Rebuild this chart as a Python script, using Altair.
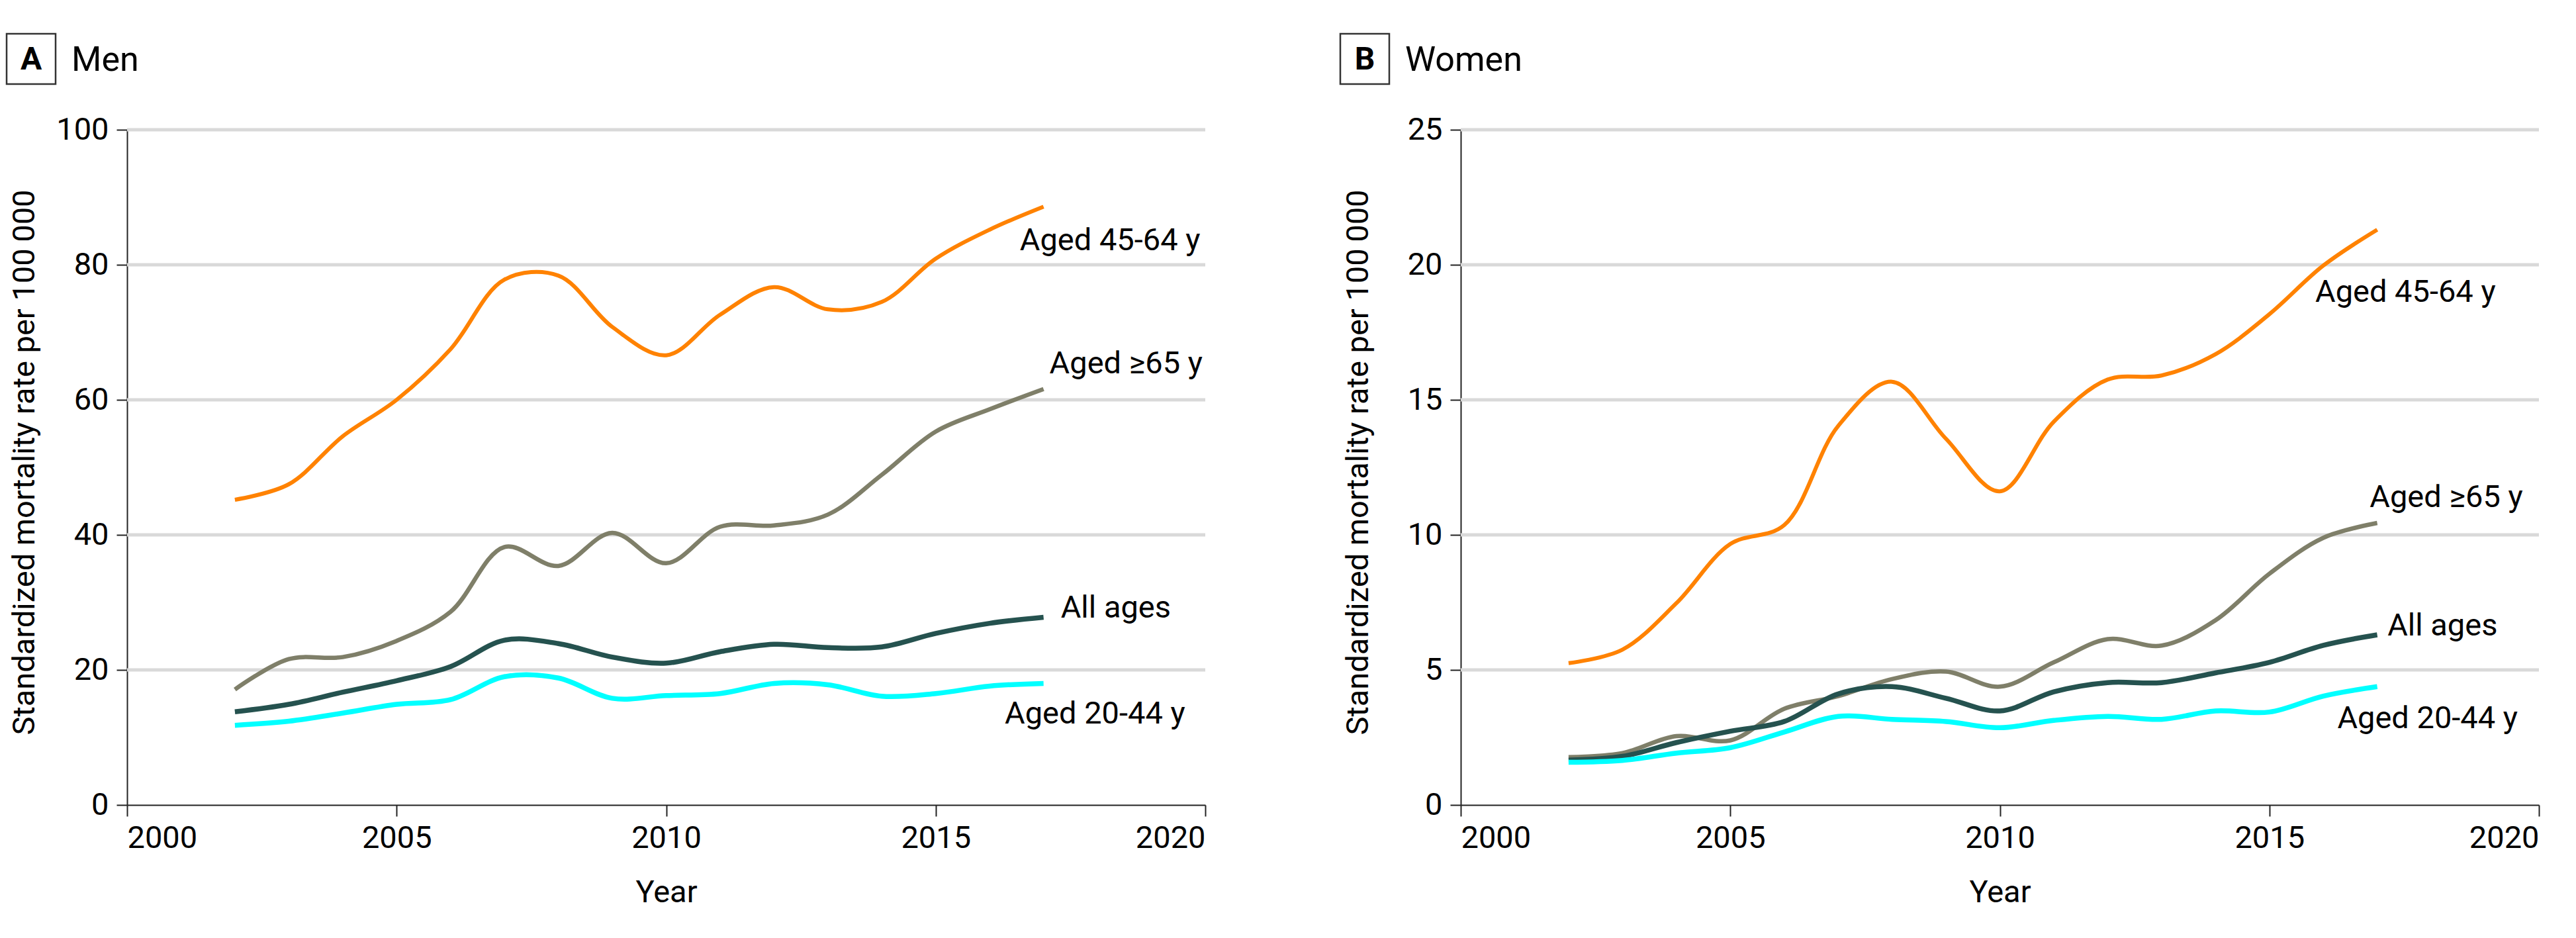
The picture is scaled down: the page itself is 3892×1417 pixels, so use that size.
import altair as alt
import pandas as pd

years = list(range(2002, 2018))
series = ["Aged 45-64 y", "Aged ≥65 y", "All ages", "Aged 20-44 y"]

men_45_64 = [45.2, 47.5, 54.6, 60.0, 67.5, 77.8, 78.4, 70.8, 66.6, 72.6, 76.7, 73.4, 74.5, 80.9, 85.2, 88.6]
men_65 = [17.1, 21.6, 21.9, 24.3, 28.6, 38.2, 35.4, 40.3, 35.8, 41.2, 41.4, 43.0, 48.9, 55.3, 58.6, 61.6]
men_all = [13.8, 14.9, 16.7, 18.4, 20.5, 24.4, 23.9, 21.9, 21.0, 22.7, 23.8, 23.3, 23.4, 25.4, 26.9, 27.8]
men_20_44 = [11.8, 12.4, 13.6, 14.9, 15.6, 19.0, 18.8, 15.8, 16.2, 16.5, 18.0, 17.8, 16.1, 16.5, 17.6, 18.0]

women_45_64 = [5.25, 5.75, 7.47, 9.66, 10.36, 14.03, 15.67, 13.56, 11.61, 14.19, 15.75, 15.9, 16.69, 18.17, 19.97, 21.3]
women_65 = [1.77, 1.92, 2.55, 2.39, 3.56, 4.03, 4.66, 4.94, 4.38, 5.28, 6.14, 5.9, 6.84, 8.56, 9.89, 10.44]
women_all = [1.66, 1.8, 2.31, 2.73, 3.09, 4.11, 4.38, 3.95, 3.48, 4.19, 4.53, 4.53, 4.89, 5.28, 5.91, 6.3]
women_20_44 = [1.58, 1.65, 1.92, 2.12, 2.7, 3.28, 3.17, 3.09, 2.86, 3.13, 3.28, 3.17, 3.48, 3.44, 4.03, 4.38]

x_ticks = [2000, 2005, 2010, 2015, 2020]
men_y_ticks = [0, 20, 40, 60, 80, 100]
women_y_ticks = [0, 5, 10, 15, 20, 25]

men_label_x = [2016.56, 2017.11, 2017.32, 2016.28]
men_label_y = [83.5, 65.3, 29.1, 13.4]
women_label_x = [2015.85, 2016.86, 2017.19, 2016.26]
women_label_y = [18.97, 11.37, 6.62, 3.19]

colors = ["#FF8200", "#7F7F69", "#25524F", "#00FFFF"]
widths = [6, 6.5, 7.5, 7.5]

W, H = 1629, 1020
FONT = "Roboto"


def panel(letter, name, values_list, yticks, lx, ly):
    ymax = yticks[-1]
    xs = alt.Scale(domain=[2000, 2020], nice=False, zero=False)
    ys = alt.Scale(domain=[0, ymax], nice=False)
    x_axis = alt.Axis(values=x_ticks, format="d", title="Year", grid=False,
                      tickSize=17, labelPadding=10, titleY=146,
                      titleBaseline="alphabetic")
    y_axis = alt.Axis(values=yticks, title="Standardized mortality rate per 100\u2009000",
                      grid=False, tickSize=16, labelPadding=12,
                      titleAngle=270, titleX=-141, titleY=502,
                      titleBaseline="alphabetic", titleAlign="center")
    x_enc = alt.X("year:Q", scale=xs, axis=x_axis)
    y_enc = alt.Y("value:Q", scale=ys, axis=y_axis)

    grid = alt.Chart(pd.DataFrame({"g": yticks[1:]})).mark_rule(
        color="#D9D9D9", strokeWidth=5
    ).encode(y=alt.Y("g:Q", scale=ys, axis=y_axis), x=alt.value(0), x2=alt.value(W))

    lines = []
    for s, vals, c, w in zip(series, values_list, colors, widths):
        df = pd.DataFrame({"year": years, "value": vals, "series": s})
        lines.append(
            alt.Chart(df).mark_line(color=c, strokeWidth=w, interpolate="catmull-rom",
                                    strokeCap="butt").encode(x=x_enc, y=y_enc)
        )

    labels = alt.Chart(pd.DataFrame({"lx": lx, "ly": ly, "label": series})).mark_text(
        align="left", baseline="middle", font=FONT, fontSize=47, color="black"
    ).encode(
        x=alt.X("lx:Q", scale=xs, axis=x_axis),
        y=alt.Y("ly:Q", scale=ys, axis=y_axis),
        text="label:N",
    )

    head_df = pd.DataFrame({"letter": [letter], "name": [name]})
    box = alt.Chart(head_df).mark_rect(fill="white", stroke="#333333", strokeWidth=2.5).encode(
        x=alt.value(-182), x2=alt.value(-108), y=alt.value(-145), y2=alt.value(-69)
    )
    letter_t = alt.Chart(head_df).mark_text(
        font=FONT, fontSize=48, fontWeight="bold", align="center", baseline="middle", color="black"
    ).encode(x=alt.value(-145), y=alt.value(-105), text="letter:N")
    name_t = alt.Chart(head_df).mark_text(
        font=FONT, fontSize=52, align="left", baseline="middle", color="black"
    ).encode(x=alt.value(-84), y=alt.value(-105), text="name:N")

    return alt.layer(grid, *lines, labels, box, letter_t, name_t).properties(width=W, height=H)


pA = panel("A", "Men", [men_45_64, men_65, men_all, men_20_44], men_y_ticks, men_label_x, men_label_y)
pB = panel("B", "Women", [women_45_64, women_65, women_all, women_20_44], women_y_ticks,
           women_label_x, women_label_y)

chart = alt.hconcat(pA, pB, spacing=386, bounds="flush").properties(
    padding={"top": 41, "left": 0, "right": 0, "bottom": 60}
).configure_view(stroke=None).configure_axis(
    labelFont=FONT, titleFont=FONT, labelFontSize=47, titleFontSize=47,
    titleFontWeight="normal", labelColor="black", titleColor="black",
    domainColor="#222222", domainWidth=2, tickColor="#222222", tickWidth=2,
)

chart.save("out.html", embed_options={"renderer": "svg", "actions": False})
